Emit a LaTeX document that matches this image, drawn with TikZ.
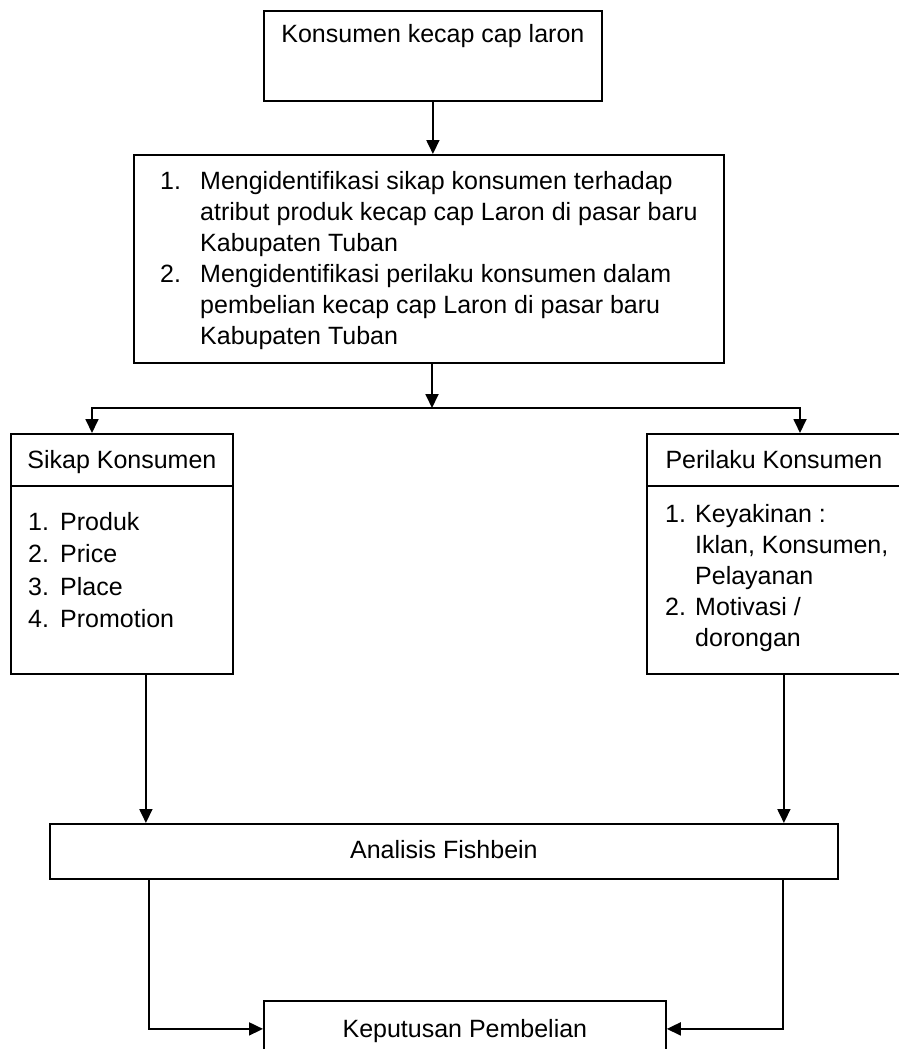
\documentclass[tikz,border=0pt]{standalone}
\usepackage{fontspec}
\setmainfont{Liberation Sans}
\usetikzlibrary{arrows.meta}
\begin{document}
\begin{tikzpicture}[x=1pt,y=-1pt,
		kotak/.style={draw,line width=1.8pt,inner sep=0pt,anchor=north west},
		teks/.style={font=\fontsize{25}{31}\selectfont,inner sep=0pt},
		panah/.style={line width=1.8pt,-{Triangle[length=14pt,width=13pt]}}]
	\useasboundingbox (0,0) rectangle (898,1049);
	\node[kotak,teks,minimum width=338pt,text height=32pt,text depth=58pt] (konsumen) at (263,10) {Konsumen kecap cap laron};
	\node[kotak,minimum width=590pt,minimum height=208pt] (tujuan) at (133,154) {};
	\node[teks,anchor=base west] (tujuanisi) at ([xshift=27pt,yshift=-35pt]tujuan.north west) {\begin{tabular}[t]{@{}p{40pt}@{}l@{}}
			1. & Mengidentifikasi sikap konsumen terhadap\\
			& atribut produk kecap cap Laron di pasar baru\\
			& Kabupaten Tuban\\
			2. & Mengidentifikasi perilaku konsumen dalam\\
			& pembelian kecap cap Laron di pasar baru\\
			& Kabupaten Tuban
		\end{tabular}};
	% sikap dan perilaku
	\node[kotak,teks,minimum width=222pt,text height=35pt,text depth=17pt] (sikap) at (10,433) {Sikap Konsumen};
	\node[kotak,minimum width=222pt,minimum height=188pt] (sikapisi) at (10,485) {};
	\node[teks,anchor=base west] (sikaplist) at ([xshift=18pt,yshift=-45pt]sikapisi.north west) {\renewcommand{\arraystretch}{1.05}\begin{tabular}[t]{@{}p{32pt}@{}l@{}}
			1. & Produk\\
			2. & Price\\
			3. & Place\\
			4. & Promotion
		\end{tabular}};
	\node[kotak,teks,minimum width=254pt,text height=35pt,text depth=17pt] (perilaku) at (646,433) {Perilaku Konsumen};
	\node[kotak,minimum width=254pt,minimum height=188pt] (perilakuisi) at (646,485) {};
	\node[teks,anchor=base west] (perilakulist) at ([xshift=19pt,yshift=-37pt]perilakuisi.north west) {\begin{tabular}[t]{@{}p{30pt}@{}l@{}}
			1. & Keyakinan :\\
			& Iklan, Konsumen,\\
			& Pelayanan\\
			2. & Motivasi /\\
			& dorongan
		\end{tabular}};
	\node[kotak,teks,minimum width=788pt,text height=35pt,text depth=20pt] (fishbein) at (49,823) {Analisis Fishbein};
	\node[kotak,teks,minimum width=402pt,text height=37pt,text depth=19pt] (keputusan) at (263,1000) {Keputusan Pembelian};
	% panah
	\coordinate (cabang) at (432,408);
	\coordinate (cabangkiri) at (92,408);
	\coordinate (cabangkanan) at (800,408);
	\draw[panah] (konsumen.south) -- (konsumen.south |- tujuan.north);
	\draw[panah] (tujuan.south -| cabang) -- (cabang);
	\draw[line width=1.8pt,{Triangle[length=14pt,width=13pt]}-{Triangle[length=14pt,width=13pt]}] (cabangkiri |- sikap.north) -- (cabangkiri) -- (cabangkanan) -- (cabangkanan |- perilaku.north);
	\draw[panah] ([xshift=24pt]sikapisi.south) -- ([xshift=24pt]sikapisi.south |- fishbein.north);
	\draw[panah] ([xshift=10pt]perilakuisi.south) -- ([xshift=10pt]perilakuisi.south |- fishbein.north);
	\draw[panah] ([xshift=-295pt]fishbein.south) |- (keputusan.west);
	\draw[panah] ([xshift=339pt]fishbein.south) |- (keputusan.east);
\end{tikzpicture}
\end{document}
